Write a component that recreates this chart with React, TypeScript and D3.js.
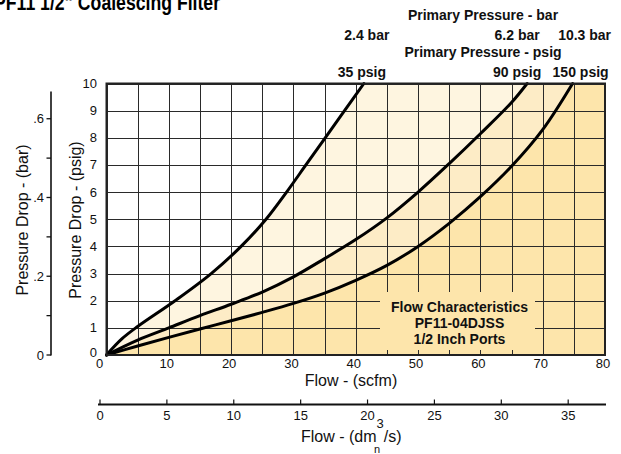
import React from 'react';
import * as d3 from 'd3';

// Flow (scfm) vs pressure drop (psig) for each primary pressure
const curve35 = [
  [0, 0], [2.5, 0.6], [5, 1.05], [11, 2], [16.8, 3], [21.6, 4], [25.6, 5],
  [28.9, 6], [32.0, 7], [35.1, 8], [38.2, 9], [41.3, 10],
];
const curve90 = [
  [0, 0], [5, 0.55], [10, 1.0], [15, 1.45], [20, 1.87], [25, 2.32], [30, 2.88],
  [35, 3.55], [40, 4.25], [45, 5.05], [50, 6.0], [55, 7.05], [60, 8.15], [65, 9.3], [67.5, 10],
];
const curve150 = [
  [0, 0], [5, 0.33], [10, 0.65], [15, 0.96], [20, 1.26], [25, 1.57], [30, 1.9],
  [35, 2.28], [40, 2.75], [45, 3.3], [50, 4.0], [55, 4.85], [60, 5.83], [65, 6.95], [70, 8.3], [74.8, 10],
];

const barLabels = ['2.4 bar', '6.2 bar', '10.3 bar'];
const psigLabels = ['35 psig', '90 psig', '150 psig'];

const scfmTicks = [0, 10, 20, 30, 40, 50, 60, 70, 80];
const scfmGrid = d3.range(0, 81, 5);
const psigTicks = [0, 1, 2, 3, 4, 5, 6, 7, 8, 9, 10];
const barTicks = [0, 0.2, 0.4, 0.6];
const barTickLabels = ['0', '.2', '.4', '.6'];
const barMinor = [0.1, 0.3, 0.5];
const dmTicks = [0, 5, 10, 15, 20, 25, 30, 35];

const boxLines = ['Flow Characteristics', 'PF11-04DJSS', '1/2 Inch Ports'];

const PSI_PER_BAR = 14.5038;
const DM_PER_SCFM = 0.4719;
const FONT = '"Liberation Sans", Arial, Helvetica, sans-serif';

export default function App() {
  const W = 621;
  const H = 454;
  const x = d3.scaleLinear().domain([0, 80]).range([106.5, 605]);
  const y = d3.scaleLinear().domain([0, 10]).range([355, 83.5]);
  const xDm = d3.scaleLinear().domain([0, 80 * DM_PER_SCFM]).range([100, 605]);
  const yBar = (b: number) => y(b * PSI_PER_BAR);

  const curve = d3.curveCatmullRom.alpha(0.5);
  const line = d3
    .line<number[]>()
    .x((d) => x(d[0]))
    .y((d) => y(d[1]))
    .curve(curve);

  // path pieces without the leading "M" so bands can be stitched together
  const body = (c: number[][]) => line(c)!.replace(/^M/, 'L');

  const end35 = curve35[curve35.length - 1];
  const end90 = curve90[curve90.length - 1];
  const end150 = curve150[curve150.length - 1];

  const bandA =
    line(curve35) + 'L' + x(end90[0]) + ',' + y(10) + body([...curve90].reverse()) + 'Z';
  const bandB =
    line(curve90) + 'L' + x(end150[0]) + ',' + y(10) + body([...curve150].reverse()) + 'Z';
  const bandC =
    line(curve150) + 'L' + x(80) + ',' + y(10) + 'L' + x(80) + ',' + y(0) + 'Z';

  const snap = (v: number) => Math.round(v) + 0.5;
  const ends = [end35, end90, end150];
  const barDx = [3, -10, 12];
  const psigDx = [-2, -10, 8];

  const boxX0 = 380;
  const boxX1 = 535;
  const boxY0 = 292;
  const boxY1 = 350;

  return (
    <svg
      width={W}
      height={H}
      style={{ position: 'absolute', left: 0, top: 0, background: '#fff' }}
      fontFamily={FONT}
    >
      {/* title, cropped at top as in the source */}
      <text x={-6} y={10} fontSize={22} fontWeight="bold" textLength={226} lengthAdjust="spacingAndGlyphs">
        PF11 1/2" Coalescing Filter
      </text>

      {/* filled bands */}
      <path d={bandA} fill="#fef5e0" />
      <path d={bandB} fill="#fdecc6" />
      <path d={bandC} fill="#fde5ab" />

      {/* grid */}
      {scfmGrid.map((v) => (
        <line key={'gx' + v} x1={snap(x(v))} x2={snap(x(v))} y1={y(0)} y2={y(10)} stroke="#2a2a2a" strokeWidth={1} />
      ))}
      {psigTicks.map((v) => (
        <line key={'gy' + v} x1={x(0)} x2={x(80)} y1={snap(y(v))} y2={snap(y(v))} stroke="#2a2a2a" strokeWidth={1} />
      ))}

      {/* label box */}
      <rect x={boxX0} y={boxY0} width={boxX1 - boxX0} height={boxY1 - boxY0} fill="#fde5ab" />
      {boxLines.map((t, i) => (
        <text key={t} x={(boxX0 + boxX1) / 2 + 2} y={311.5 + i * 16} textAnchor="middle" fontSize={14} fontWeight="bold" fill="#111">
          {t}
        </text>
      ))}

      {/* curves */}
      {[curve35, curve90, curve150].map((c, i) => (
        <path key={'c' + i} d={line(c)!} fill="none" stroke="#000" strokeWidth={3} strokeLinecap="round" />
      ))}

      {/* frame */}
      <rect x={x(0)} y={y(10)} width={x(80) - x(0)} height={y(0) - y(10)} fill="none" stroke="#222" strokeWidth={2} />

      {/* psig axis labels */}
      {psigTicks.map((v) => (
        <text key={'py' + v} x={97} y={y(v) + (v === 0 ? 2 : 4.5)} textAnchor="end" fontSize={13} fill="#111">
          {v}
        </text>
      ))}
      <text transform={`translate(81,220) rotate(-90)`} textAnchor="middle" fontSize={16} fill="#111">
        Pressure Drop - (psig)
      </text>

      {/* bar axis */}
      <line x1={51} x2={51} y1={91.5} y2={yBar(0) + 0.5} stroke="#111" strokeWidth={1.6} />
      {barTicks.map((v) => (
        <line key={'bt' + v} x1={46.5} x2={51} y1={yBar(v)} y2={yBar(v)} stroke="#111" strokeWidth={1.3} />
      ))}
      {barMinor.map((v) => (
        <line key={'bm' + v} x1={46.5} x2={51} y1={yBar(v)} y2={yBar(v)} stroke="#111" strokeWidth={1.3} />
      ))}
      {barTicks.map((v, i) => (
        <text key={'bl' + v} x={44} y={yBar(v) + 4.5} textAnchor="end" fontSize={13} fill="#111">
          {barTickLabels[i]}
        </text>
      ))}
      <text transform={`translate(28,220) rotate(-90)`} textAnchor="middle" fontSize={16} fill="#111">
        Pressure Drop - (bar)
      </text>

      {/* scfm axis labels */}
      {scfmTicks.map((v) => (
        <text key={'sx' + v} x={x(v) + (v === 0 ? -7 : -2)} y={368} textAnchor="middle" fontSize={13} fill="#111">
          {v}
        </text>
      ))}
      <text x={351} y={386} textAnchor="middle" fontSize={16} fill="#111">
        Flow - (scfm)
      </text>

      {/* dm3/s axis */}
      <line x1={98} x2={606} y1={404.5} y2={404.5} stroke="#111" strokeWidth={2} />
      {dmTicks.map((v) => (
        <line key={'dt' + v} x1={xDm(v)} x2={xDm(v)} y1={399.5} y2={404.5} stroke="#111" strokeWidth={1.2} />
      ))}
      {dmTicks.map((v) => (
        <text key={'dl' + v} x={xDm(v)} y={419.5} textAnchor="middle" fontSize={13} fill="#111">
          {v}
        </text>
      ))}
      <text x={301} y={442} fontSize={16} fill="#111">
        Flow - (dm
        <tspan dy={-14} fontSize={13}>3</tspan>
        <tspan dy={14} fontSize={16}>/s)</tspan>
      </text>
      <text x={374} y={453} fontSize={11} fill="#111">n</text>

      {/* primary pressure headers */}
      <text x={483} y={20} textAnchor="middle" fontSize={14} fontWeight="bold" fill="#111">
        Primary Pressure - bar
      </text>
      <text x={483} y={57} textAnchor="middle" fontSize={14} fontWeight="bold" fill="#111">
        Primary Pressure - psig
      </text>
      {ends.map((e, i) => (
        <text key={'lb' + i} x={x(e[0]) + barDx[i]} y={40} textAnchor="middle" fontSize={14} fontWeight="bold" fill="#111">
          {barLabels[i]}
        </text>
      ))}
      {ends.map((e, i) => (
        <text key={'lp' + i} x={x(e[0]) + psigDx[i]} y={77} textAnchor="middle" fontSize={14} fontWeight="bold" fill="#111">
          {psigLabels[i]}
        </text>
      ))}
    </svg>
  );
}
